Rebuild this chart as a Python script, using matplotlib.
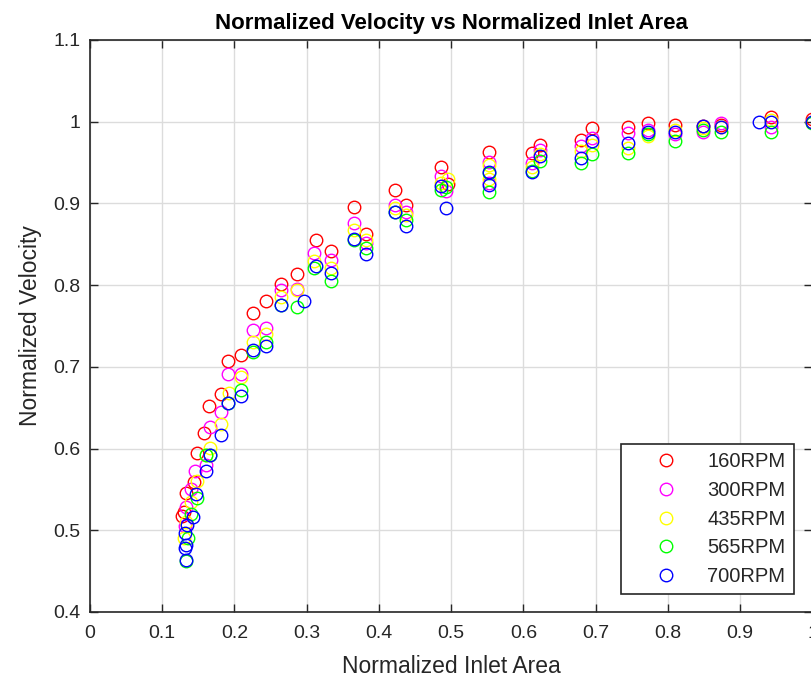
import matplotlib.pyplot as plt

plt.rcParams['font.family'] = ['Liberation Sans', 'DejaVu Sans']

# normalized inlet area / normalized velocity, one pair of lists per fan speed
x160 = [0.127, 0.130, 0.133, 0.144, 0.148, 0.158, 0.165, 0.181, 0.191, 0.209,
        0.226, 0.243, 0.265, 0.286, 0.3125, 0.333, 0.365, 0.382, 0.422, 0.4375,
        0.486, 0.495, 0.552, 0.612, 0.623, 0.680, 0.695, 0.744, 0.772, 0.809,
        0.848, 0.874, 0.942, 1.0]
y160 = [0.517, 0.522, 0.546, 0.559, 0.595, 0.619, 0.652, 0.667, 0.707, 0.715,
        0.766, 0.780, 0.802, 0.814, 0.855, 0.842, 0.896, 0.862, 0.917, 0.898,
        0.944, 0.924, 0.963, 0.962, 0.971, 0.978, 0.992, 0.994, 0.999, 0.996,
        0.995, 0.996, 1.006, 1.003]

x300 = [0.131, 0.133, 0.140, 0.146, 0.160, 0.166, 0.181, 0.191, 0.209, 0.226,
        0.244, 0.265, 0.286, 0.310, 0.333, 0.365, 0.382, 0.422, 0.4375, 0.486,
        0.493, 0.552, 0.552, 0.612, 0.623, 0.680, 0.695, 0.744, 0.772, 0.809,
        0.848, 0.874, 0.942, 1.0]
y300 = [0.505, 0.529, 0.550, 0.572, 0.580, 0.627, 0.645, 0.691, 0.691, 0.745,
        0.748, 0.794, 0.795, 0.839, 0.831, 0.876, 0.852, 0.898, 0.890, 0.933,
        0.915, 0.951, 0.925, 0.950, 0.965, 0.970, 0.980, 0.986, 0.990, 0.985,
        0.988, 0.998, 0.994, 1.000]

x435 = [0.130, 0.133, 0.140, 0.148, 0.160, 0.166, 0.181, 0.192, 0.209, 0.226,
        0.244, 0.265, 0.286, 0.310, 0.333, 0.365, 0.382, 0.422, 0.4375, 0.486,
        0.495, 0.552, 0.552, 0.612, 0.623, 0.680, 0.695, 0.744, 0.772, 0.809,
        0.848, 0.874, 0.942, 1.0]
y435 = [0.490, 0.510, 0.535, 0.560, 0.592, 0.601, 0.630, 0.668, 0.688, 0.731,
        0.740, 0.785, 0.794, 0.830, 0.821, 0.867, 0.855, 0.895, 0.886, 0.925,
        0.930, 0.947, 0.930, 0.945, 0.960, 0.964, 0.972, 0.968, 0.982, 0.990,
        0.992, 0.994, 1.002, 1.000]

x565 = [0.133, 0.135, 0.140, 0.148, 0.160, 0.166, 0.191, 0.209, 0.226, 0.244,
        0.265, 0.286, 0.310, 0.333, 0.365, 0.382, 0.422, 0.4375, 0.486, 0.493,
        0.552, 0.552, 0.612, 0.623, 0.680, 0.695, 0.744, 0.772, 0.809, 0.848,
        0.874, 0.942, 1.0]
y565 = [0.463, 0.490, 0.520, 0.540, 0.592, 0.592, 0.656, 0.672, 0.718, 0.731,
        0.776, 0.773, 0.821, 0.805, 0.855, 0.845, 0.890, 0.880, 0.917, 0.920,
        0.937, 0.914, 0.940, 0.952, 0.949, 0.961, 0.962, 0.985, 0.976, 0.990,
        0.987, 0.988, 0.998]

x700 = [0.133, 0.132, 0.133, 0.132, 0.134, 0.143, 0.147, 0.160, 0.166, 0.181,
        0.191, 0.209, 0.226, 0.244, 0.265, 0.296, 0.3125, 0.333, 0.365, 0.382,
        0.422, 0.4375, 0.486, 0.493, 0.552, 0.552, 0.612, 0.623, 0.680, 0.695,
        0.744, 0.772, 0.809, 0.848, 0.874, 0.926, 0.942, 1.0]
y700 = [0.464, 0.478, 0.482, 0.497, 0.507, 0.516, 0.545, 0.572, 0.592, 0.617,
        0.656, 0.664, 0.721, 0.725, 0.776, 0.780, 0.823, 0.815, 0.857, 0.838,
        0.890, 0.872, 0.921, 0.895, 0.939, 0.922, 0.939, 0.958, 0.955, 0.976,
        0.974, 0.988, 0.988, 0.995, 0.994, 1.000, 1.000, 1.000]

series = [
    (x160, y160, '#ff0000', '160RPM'),
    (x300, y300, '#ff00ff', '300RPM'),
    (x435, y435, '#ffff00', '435RPM'),
    (x565, y565, '#00ff00', '565RPM'),
    (x700, y700, '#0000ff', '700RPM'),
]

fig = plt.figure(figsize=(8.12, 6.85), dpi=100)
ax = fig.add_axes([90 / 812, 73 / 685, 722.5 / 812, 572 / 685])

for xs, ys, c, lab in series:
    ax.plot(xs, ys, 'o', mfc='none', mec=c, ms=9, mew=1.0, label=lab)

ax.set_xlim(0, 1)
ax.set_ylim(0.4, 1.1)
ax.set_xticks([i / 10 for i in range(11)])
ax.set_xticklabels(['0', '0.1', '0.2', '0.3', '0.4', '0.5', '0.6', '0.7',
                    '0.8', '0.9', '1'])
ax.set_yticks([0.4 + i / 10 for i in range(8)])
ax.set_yticklabels(['0.4', '0.5', '0.6', '0.7', '0.8', '0.9', '1', '1.1'])

dark = '#262626'
ax.grid(True, color='#dcdcdc', linewidth=1.0)
ax.set_axisbelow(True)
ax.tick_params(direction='in', length=6, width=1, colors=dark,
               labelsize=14, top=True, right=True, pad=7)
ax.tick_params(axis='x', pad=9)
for s in ax.spines.values():
    s.set_color(dark)
    s.set_linewidth(1.2)

ax.set_title('Normalized Velocity vs Normalized Inlet Area',
             fontsize=16, fontweight='bold', pad=8)
ax.set_xlabel('Normalized Inlet Area', fontsize=16.5, color=dark, labelpad=10)
ax.set_ylabel('Normalized Velocity', fontsize=16.5, color=dark, labelpad=8)

leg = ax.legend(loc='upper left', bbox_to_anchor=(0.735, 0.2937),
                borderaxespad=0, fontsize=14.5, fancybox=False,
                framealpha=1, edgecolor=dark, borderpad=0.41,
                handlelength=3.65, handletextpad=0.21, labelspacing=0.48)
leg.get_frame().set_linewidth(1.2)
for t in leg.get_texts():
    t.set_color(dark)

fig.savefig('out.png', dpi=100, facecolor='white')
